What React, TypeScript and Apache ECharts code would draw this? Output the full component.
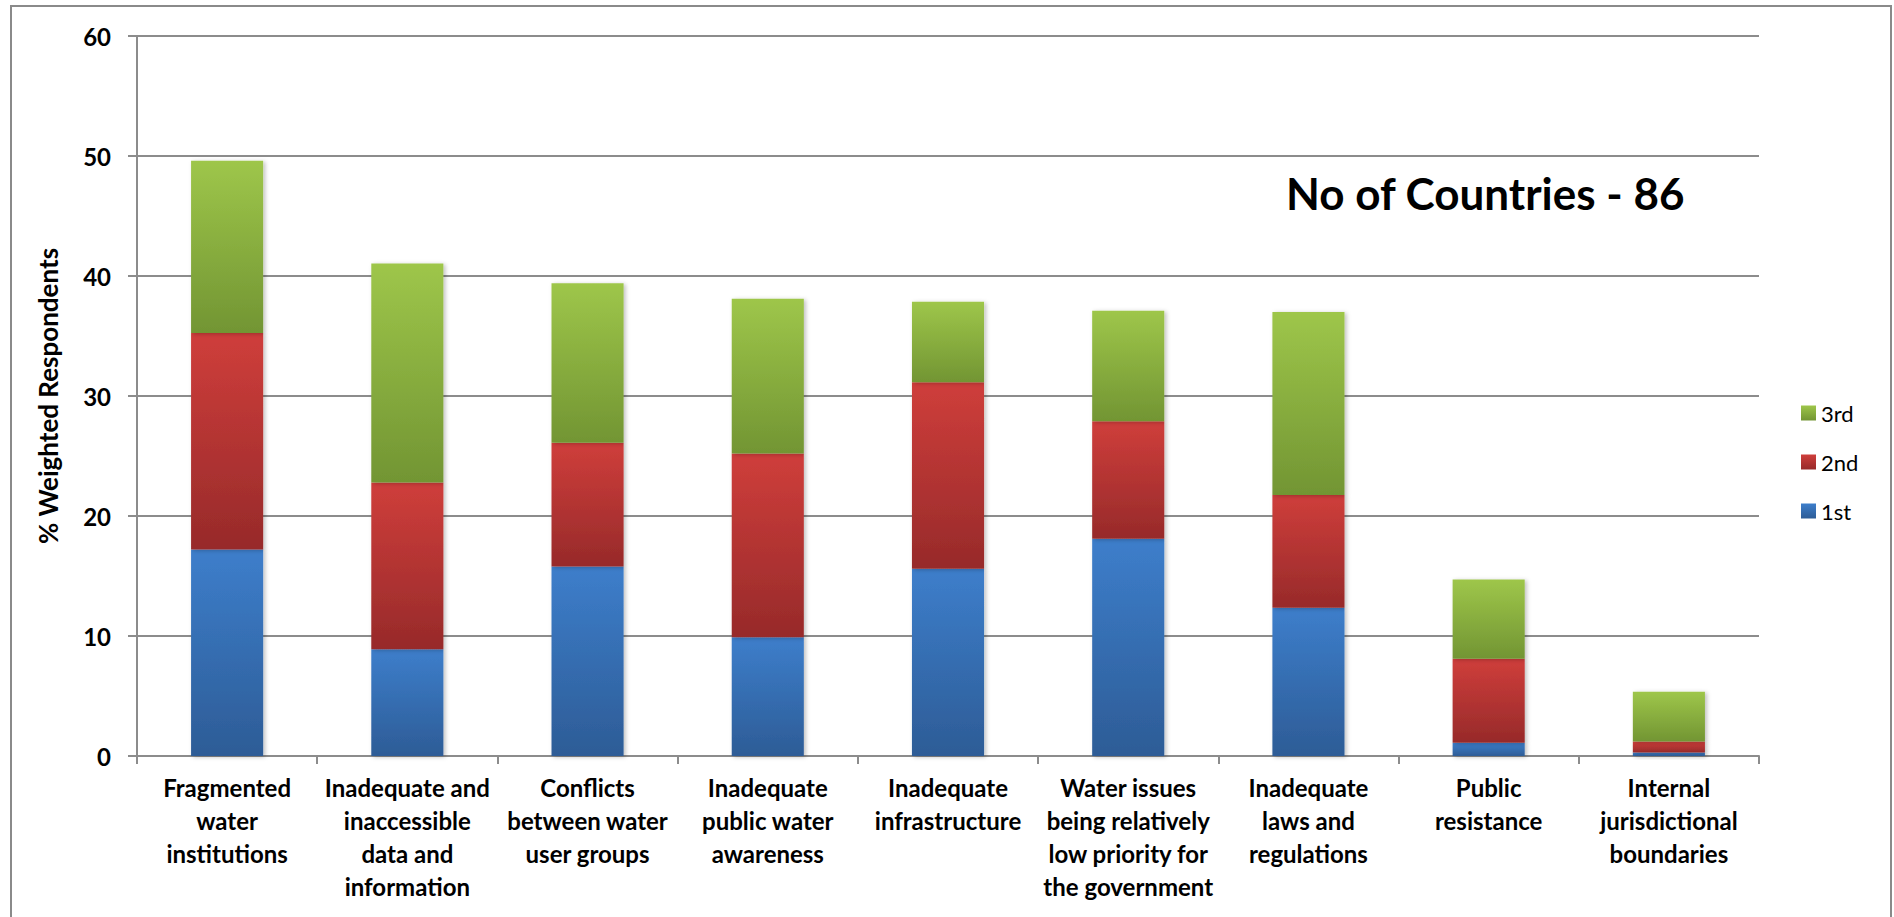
import React, { useEffect, useRef } from "react";
import * as echarts from "echarts";

const categories = [
  "Fragmented\nwater\ninstitutions",
  "Inadequate and\ninaccessible\ndata and\ninformation",
  "Conflicts\nbetween water\nuser groups",
  "Inadequate\npublic water\nawareness",
  "Inadequate\ninfrastructure",
  "Water issues\nbeing relatively\nlow priority for\nthe government",
  "Inadequate\nlaws and\nregulations",
  "Public\nresistance",
  "Internal\njurisdictional\nboundaries",
];
const first = [17.2, 8.9, 15.8, 9.9, 15.6, 18.1, 12.35, 1.1, 0.3];
const second = [18.05, 13.9, 10.3, 15.3, 15.55, 9.8, 9.4, 7.0, 0.9];
const third = [14.35, 18.25, 13.3, 12.9, 6.7, 9.2, 15.25, 6.6, 4.15];
const seriesNames = ["1st", "2nd", "3rd"];
const yTicks = { min: 0, max: 60, interval: 10 };
const titleText = "No of Countries - 86";
const yAxisName = "% Weighted Respondents";

const FONT = "Lato";

const grad = (top: string, bottom: string) =>
  new echarts.graphic.LinearGradient(0, 0, 0, 1, [
    { offset: 0, color: top },
    { offset: 1, color: bottom },
  ]);

export default function App() {
  const ref = useRef<HTMLDivElement>(null);
  useEffect(() => {
    if (!ref.current) return;
    const chart = echarts.init(ref.current, undefined, { renderer: "svg" });
    const gridColor = "#8c8c8c";
    const mk = (name: string, data: number[], top: string, bottom: string) => ({
      name,
      type: "bar",
      stack: "total",
      barWidth: "40%",
      data,
      itemStyle: {
        color: grad(top, bottom),
        shadowColor: "rgba(0,0,0,0.25)",
        shadowBlur: 4,
        shadowOffsetX: 2,
        shadowOffsetY: 1,
      },
    });
    chart.setOption({
      animation: false,
      backgroundColor: "#ffffff",
      textStyle: { fontFamily: FONT },
      title: {
        text: titleText,
        left: 1286,
        top: 171,
        padding: 0,
        textStyle: { fontFamily: FONT, fontSize: 44, fontWeight: "bold", color: "#000" },
      },
      legend: {
        data: ["3rd", "2nd", "1st"],
        orient: "vertical",
        left: 1801,
        top: 402,
        itemWidth: 15,
        itemHeight: 15,
        itemGap: 27,
        icon: "rect",
        padding: 0,
        textStyle: { fontFamily: FONT, fontSize: 22, color: "#000", padding: [0, 0, 0, 0] },
      },
      grid: { left: 137, top: 36, right: 135, bottom: 161, containLabel: false },
      xAxis: {
        type: "category",
        data: categories,
        axisLine: { show: true, lineStyle: { color: gridColor, width: 2 } },
        axisTick: { show: true, length: 8, lineStyle: { color: gridColor, width: 2 } },
        axisLabel: {
          interval: 0,
          margin: 15,
          fontFamily: FONT,
          fontSize: 24,
          fontWeight: "bold",
          color: "#000",
          lineHeight: 33,
          align: "center",
        },
      },
      yAxis: {
        type: "value",
        min: yTicks.min,
        max: yTicks.max,
        interval: yTicks.interval,
        name: yAxisName,
        nameLocation: "middle",
        nameRotate: 90,
        nameGap: 76,
        nameTextStyle: { fontFamily: FONT, fontSize: 26, fontWeight: "bold", color: "#000" },
        axisLine: { show: true, lineStyle: { color: gridColor, width: 2 } },
        axisTick: { show: true, length: 9, lineStyle: { color: gridColor, width: 2 } },
        axisLabel: { margin: 26, fontFamily: FONT, fontSize: 24, fontWeight: "bold", color: "#000" },
        splitLine: { show: true, lineStyle: { color: gridColor, width: 2 } },
      },
      graphic: [
        {
          type: "rect",
          shape: { x: 11, y: 6, width: 1880, height: 1000 },
          style: { fill: "none", stroke: "#8a8a8a", lineWidth: 2 },
          silent: true,
        },
      ],
      series: [
        mk(seriesNames[0], first, "#3D7ECB", "#2D5C96"),
        mk(seriesNames[1], second, "#CF3E3B", "#972A2A"),
        mk(seriesNames[2], third, "#9EC64A", "#729533"),
      ],
    });
    return () => chart.dispose();
  }, []);
  return (
    <div
      ref={ref}
      style={{ position: "absolute", left: 0, top: 0, width: 1894, height: 917 }}
    />
  );
}
